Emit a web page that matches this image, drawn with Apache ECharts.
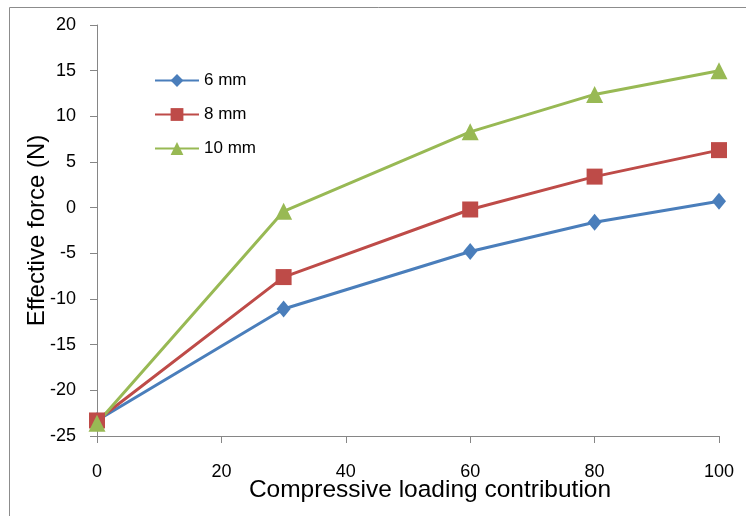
<!DOCTYPE html>
<html>
<head>
<meta charset="utf-8">
<script src="https://cdn.jsdelivr.net/npm/echarts@6/dist/echarts.min.js"></script>
<style>
  html, body { margin: 0; padding: 0; background: #fff; }
  #chart { width: 746px; height: 516px; }
</style>
</head>
<body>
<div id="chart"></div>
<script>
// Loading contribution (x) and effective force (N) for each spring size
const loading = [0, 30, 60, 80, 100];
const force6mm = [-23.3, -11.1, -4.8, -1.6, 0.7];
const force8mm = [-23.3, -7.6, -0.2, 3.4, 6.3];
const force10mm = [-23.6, -0.4, 8.3, 12.4, 15.0];
const seriesNames = ['6 mm', '8 mm', '10 mm'];
const xTicks = { min: 0, max: 100, step: 20 };
const yTicks = { min: -25, max: 20, step: 5 };

const FONT = '"Liberation Sans", Arial, sans-serif';
const pair = (xs, ys) => xs.map((x, i) => [x, ys[i]]);

const chart = echarts.init(document.getElementById('chart'), null, { renderer: 'canvas' });

const mk = (name, data, color, symbol, size) => ({
  name,
  type: 'line',
  data: pair(loading, data),
  symbol,
  symbolSize: size,
  showSymbol: true,
  lineStyle: { width: 3, color },
  itemStyle: { color, borderWidth: 0 },
  emphasis: { disabled: true },
  animation: false,
  z: 3
});

chart.setOption({
  backgroundColor: '#ffffff',
  animation: false,
  graphic: [{
    type: 'rect',
    shape: { x: 9.5, y: 7.5, width: 900, height: 700 },
    style: { fill: 'none', stroke: '#8c8c8c', lineWidth: 1 },
    silent: true
  }],
  grid: { left: 97, right: 27, top: 25, bottom: 80, containLabel: false },
  legend: {
    orient: 'vertical',
    left: 149,
    top: 67,
    itemWidth: 44,
    itemHeight: 16,
    itemGap: 17,
    textStyle: { fontFamily: FONT, fontSize: 17, color: '#000' },
    data: seriesNames
  },
  xAxis: {
    type: 'value',
    min: xTicks.min,
    max: xTicks.max,
    interval: xTicks.step,
    name: 'Compressive loading contribution',
    nameLocation: 'middle',
    nameGap: 42,
    nameMoveOverlap: false,
    nameTextStyle: { fontFamily: FONT, fontSize: 24.5, color: '#000', padding: [0, 0, 0, 44] },
    axisLine: { show: true, onZero: false, lineStyle: { color: '#868686', width: 1 } },
    axisTick: { show: true, length: 7, lineStyle: { color: '#868686' } },
    axisLabel: { fontFamily: FONT, fontSize: 18, color: '#000', margin: 27 },
    splitLine: { show: false }
  },
  yAxis: {
    type: 'value',
    min: yTicks.min,
    max: yTicks.max,
    interval: yTicks.step,
    name: 'Effective force (N)',
    nameLocation: 'middle',
    nameGap: 48,
    nameMoveOverlap: false,
    nameRotate: 90,
    nameTextStyle: { fontFamily: FONT, fontSize: 24, color: '#000' },
    axisLine: { show: true, onZero: false, lineStyle: { color: '#868686', width: 1 } },
    axisTick: { show: true, length: 7, lineStyle: { color: '#868686' } },
    axisLabel: { fontFamily: FONT, fontSize: 18, color: '#000', margin: 21 },
    splitLine: { show: false }
  },
  series: [
    mk(seriesNames[0], force6mm, '#4a7ebb', 'diamond', [14, 17]),
    mk(seriesNames[1], force8mm, '#be4b48', 'rect', 16),
    mk(seriesNames[2], force10mm, '#98b954', 'triangle', 17)
  ]
});
</script>
</body>
</html>
